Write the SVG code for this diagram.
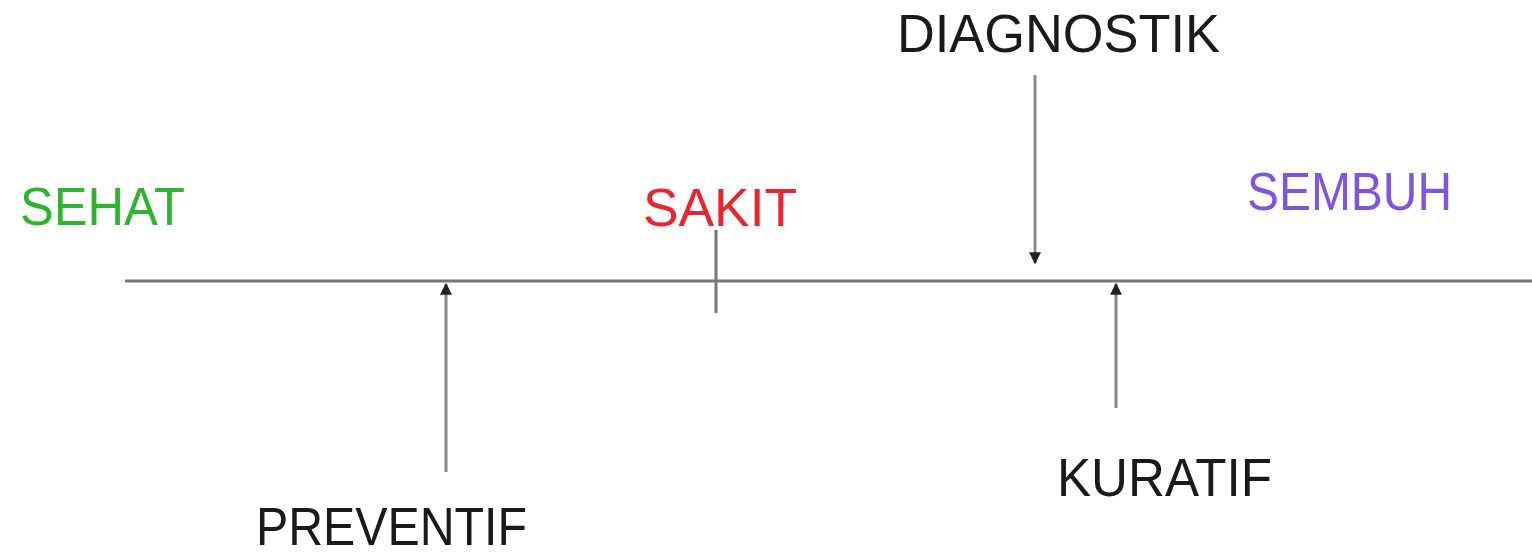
<svg xmlns="http://www.w3.org/2000/svg" width="1532" height="557" viewBox="0 0 1532 557">
  <defs>
    <marker id="head" viewBox="0 0 10 10" refX="9" refY="5" markerWidth="4" markerHeight="4" orient="auto" markerUnits="strokeWidth">
      <path d="M0,0 L10,5 L0,10 z" fill="#222"/>
    </marker>
    <style>
      .lbl { font-family: "Liberation Sans", Arial, sans-serif; font-size: 54px; }
      .line { stroke: #777; stroke-width: 3; fill: none; }
      .arrow { stroke: #888; stroke-width: 3; fill: none; marker-end: url(#head); }
    </style>
  </defs>
  <rect width="1532" height="557" fill="#fff"/>

  <!-- timeline and connectors -->
  <g id="connectors">
    <line class="line" x1="125" y1="281" x2="1532" y2="281"/>
    <line class="line" x1="716" y1="230" x2="716" y2="313"/>
    <line class="arrow" x1="446" y1="472" x2="446" y2="284"/>
    <line class="arrow" x1="1035" y1="75" x2="1035" y2="263"/>
    <line class="arrow" x1="1116" y1="408" x2="1116" y2="284"/>
  </g>

  <g id="sehat">
    <text class="lbl" x="20" y="225" fill="#2db52d" textLength="165" lengthAdjust="spacingAndGlyphs">SEHAT</text>
  </g>
  <g id="sakit">
    <text class="lbl" x="643" y="226" fill="#e8262c" textLength="154" lengthAdjust="spacingAndGlyphs">SAKIT</text>
  </g>
  <g id="sembuh">
    <text class="lbl" x="1247" y="210" fill="#7d55e0" textLength="205" lengthAdjust="spacingAndGlyphs">SEMBUH</text>
  </g>
  <g id="diagnostik">
    <text class="lbl" x="897" y="52" fill="#1a1a1a" textLength="323" lengthAdjust="spacingAndGlyphs">DIAGNOSTIK</text>
  </g>
  <g id="preventif">
    <text class="lbl" x="256" y="545" fill="#1a1a1a" textLength="271" lengthAdjust="spacingAndGlyphs">PREVENTIF</text>
  </g>
  <g id="kuratif">
    <text class="lbl" x="1057" y="496" fill="#1a1a1a" textLength="215" lengthAdjust="spacingAndGlyphs">KURATIF</text>
  </g>
</svg>
